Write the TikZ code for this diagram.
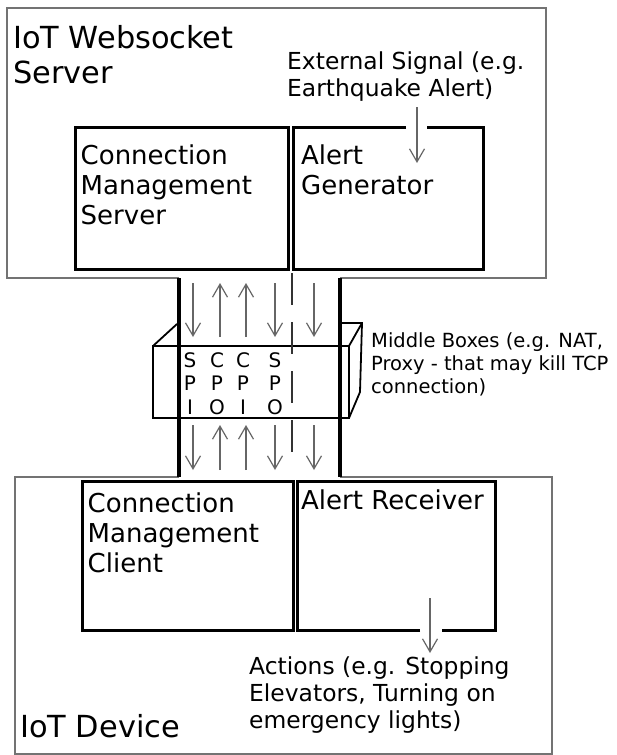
\documentclass[tikz,border=0pt]{standalone}
\usepackage{fontspec}
\setmainfont{DejaVu Sans}
\usetikzlibrary{arrows.meta,positioning}

\begin{document}
\begin{tikzpicture}[x=1pt,y=-1pt,
                outer/.style={draw=black!55,line width=1.5pt},
                part/.style={draw=black,line width=3pt},
                lane/.style={draw=black,line width=4pt},
                mbox/.style={draw=black,line width=1.8pt},
                flow/.style={draw=black!60,line width=1.2pt,
                    -{Straight Barb[length=13pt,width=15pt,line width=1.2pt]}},
                lbl/.style={anchor=north west,inner sep=0pt,align=left},
                big/.style={font=\fontsize{30.4}{35}\selectfont},
                mid/.style={font=\fontsize{26}{30}\selectfont},
                note/.style={font=\fontsize{23.4}{27}\selectfont},
                small/.style={font=\fontsize{19.5}{23}\selectfont},
                letters/.style={anchor=north,inner sep=0pt,align=center,font=\fontsize{20}{23.5}\selectfont}]

                \useasboundingbox (0,0) rectangle (616,755);

                \draw[outer] (179,278) -- (7,278) -- (7,8) -- (546,8) -- (546,278) -- (340,278);
                \draw[outer] (179,477) -- (15,477) -- (15,754) -- (552,754) -- (552,477) -- (340,477);

                \draw[part] (75,127) rectangle (288,269);
                \draw[part] (406,127) -- (293,127) -- (293,269) -- (483,269) -- (483,127) -- (427,127);
                \draw[part] (82,481) rectangle (293,630);
                \draw[part] (420,630) -- (297,630) -- (297,481) -- (495,481) -- (495,630) -- (442,630);

                \draw[mbox] (153,346) -- (177,324);
                \draw[mbox] (340,323) -- (362,323) -- (360,392) -- (349,418);
                \draw[mbox] (349,346) -- (362,323);
                \draw[mbox] (153,346) rectangle (349,418);

                \draw[lane] (179,278) -- (179,477);
                \draw[lane] (340,278) -- (340,477);
                \draw[draw=black!80,line width=1.6pt,dash pattern=on 32pt off 17pt] (292,273) -- (292,458);

                \foreach \x in {193,275,314} {
                    \draw[flow] (\x,283) -- (\x,337);
                    \draw[flow] (\x,425) -- (\x,470);
                }
                \foreach \x in {220,246} {
                    \draw[flow] (\x,337) -- (\x,283);
                    \draw[flow] (\x,470) -- (\x,425);
                }

                \node[lbl,big] (server) at (13,25) {IoT Websocket\\Server};
                \node[lbl,mid] (cms) at (80.5,145) {Connection\\Management\\Server};
                \node[lbl,mid] (gen) at (301,145) {Alert\\Generator};
                \node[lbl,note] (signal) at (287,52) {External Signal (e.g.\\Earthquake Alert)};
                \node[lbl,small] (middle) at (371,332) {Middle Boxes (e.g. NAT,\\Proxy - that may kill TCP\\connection)};

                \node[letters] (spi) at (190,352) {S\\P\\I};
                \node[letters] (cpo) at (217,352) {C\\P\\O};
                \node[letters] (cpi) at (243,352) {C\\P\\I};
                \node[letters] (spo) at (275,352) {S\\P\\O};

                \node[lbl,mid] (cmc) at (87.5,493) {Connection\\Management\\Client};
                \node[lbl,mid] (recv) at (301,490) {Alert Receiver};
                \node[lbl,note] (actions) at (249,657) {Actions (e.g. Stopping\\Elevators, Turning on\\emergency lights)};
                \node[lbl,big] (device) at (20,714) {IoT Device};

                \coordinate (sigtop) at (417,107);
                \coordinate (sigend) at (417,163);
                \coordinate (acttop) at (430,598);
                \coordinate (actend) at (430,653);
                \draw[flow] (sigtop) -- (sigend);
                \draw[flow] (acttop) -- (actend);

            \end{tikzpicture}
\end{document}
